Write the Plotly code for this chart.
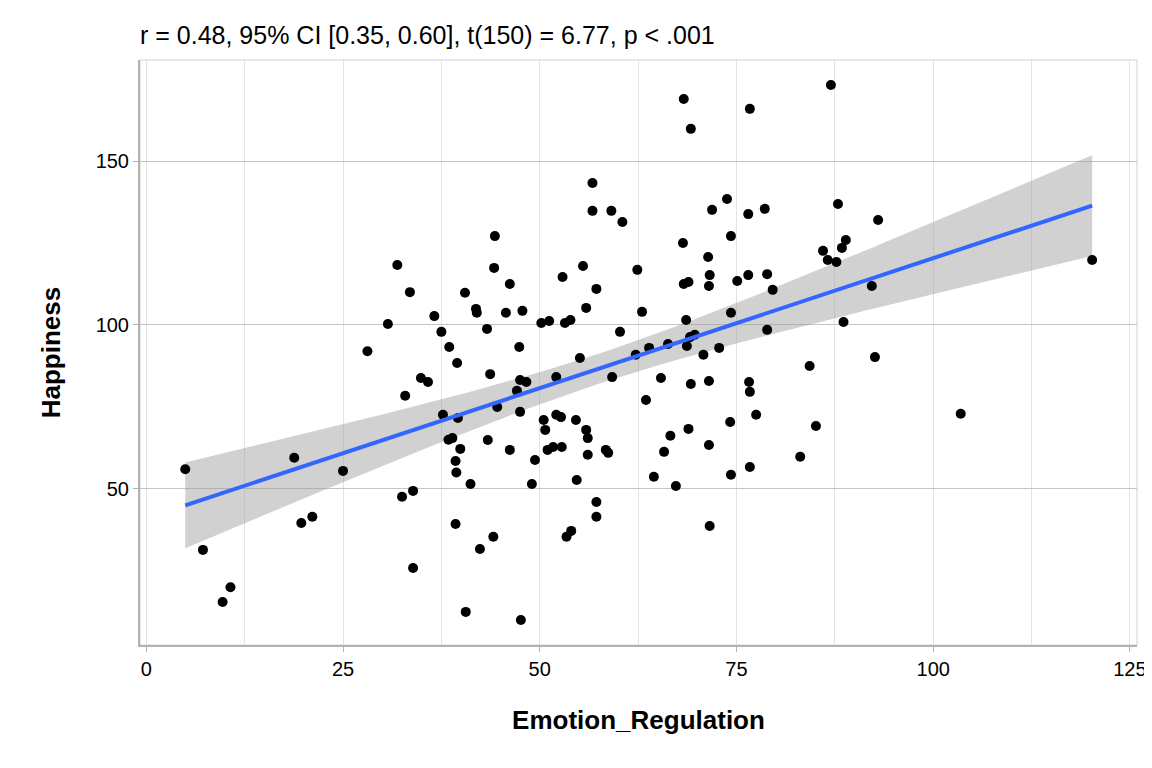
import numpy as np
import plotly.graph_objects as go

emotion_regulation = [
    4.95, 7.2, 9.7, 10.7, 18.8, 19.7, 21.1, 25.0, 28.1, 30.7, 31.9, 32.5, 32.9, 33.5, 33.9, 33.9,
    34.9, 35.8, 36.6, 37.5, 37.7, 38.4, 38.5, 38.9, 39.3, 39.3, 39.4, 39.5, 39.6, 39.9, 40.5, 40.6,
    41.2, 41.9, 42.0, 42.4, 43.3, 43.4, 43.7, 44.1, 44.2, 44.3, 44.6, 45.7, 46.2, 46.2, 47.1, 47.4,
    47.5, 47.5, 47.6, 47.8, 48.3, 49.0, 49.4, 50.2, 50.5, 50.7, 51.2, 51.0, 51.7, 52.1, 52.1, 52.7,
    52.8, 52.9, 53.2, 53.4, 53.9, 54.0, 54.6, 54.7, 55.1, 55.5, 55.9, 55.9, 56.1, 56.1, 56.7, 56.7,
    57.2, 57.2, 57.2, 58.4, 58.7, 59.1, 59.2, 60.2, 60.5, 62.2, 62.4, 63.0, 63.5, 63.9, 64.5, 65.4,
    65.8, 66.3, 66.6, 67.3, 68.2, 68.3, 68.3, 68.6, 68.9, 68.7, 68.9, 69.2, 69.1, 69.2, 69.7, 70.8,
    71.4, 71.5, 71.5, 71.5, 71.6, 71.6, 71.9, 72.8, 73.8, 74.2, 74.3, 74.3, 74.3, 75.1, 76.5, 76.5,
    76.7, 76.6, 76.7, 76.7, 77.5, 78.6, 78.9, 78.9, 79.6, 83.1, 84.3, 85.1, 86.0, 86.6, 87.0, 87.7,
    87.9, 88.4, 88.6, 88.9, 92.2, 92.6, 93.0, 103.5, 120.2,
]
happiness = [
    56.0, 31.4, 15.5, 20.0, 59.5, 39.6, 41.5, 55.5, 92.0, 100.3, 118.3, 47.6, 78.4, 110.0, 49.4, 25.9,
    83.8, 82.6, 102.7, 97.9, 72.6, 65.0, 93.3, 65.5, 39.3, 58.5, 55.0, 88.4, 71.6, 62.2, 109.8, 12.5,
    51.5, 104.9, 103.7, 31.7, 98.8, 64.9, 85.0, 35.4, 117.4, 127.1, 75.0, 103.7, 112.5, 61.9, 79.9, 93.3,
    83.2, 73.5, 10.0, 104.3, 82.6, 51.5, 58.8, 100.6, 71.0, 68.0, 101.2, 61.9, 62.8, 84.1, 72.6, 71.9,
    62.8, 114.6, 100.6, 35.4, 101.5, 37.2, 71.0, 52.7, 89.9, 118.0, 68.0, 105.2, 65.5, 60.4, 143.3, 134.8,
    111.0, 46.0, 41.5, 61.9, 61.0, 134.8, 84.1, 97.9, 131.4, 90.9, 116.8, 104.0, 77.1, 93.0, 53.7, 83.8,
    61.3, 94.2, 66.2, 50.9, 125.0, 168.9, 112.5, 101.5, 113.1, 93.6, 68.3, 159.8, 96.3, 82.0, 97.0, 90.9,
    120.7, 111.9, 82.9, 63.4, 115.2, 38.7, 135.1, 93.0, 138.4, 70.4, 127.1, 103.7, 54.3, 113.4, 133.8, 115.2,
    165.9, 82.6, 79.6, 56.7, 72.6, 135.4, 115.5, 98.5, 110.7, 59.8, 87.5, 69.2, 122.6, 119.8, 173.2, 119.2,
    136.9, 123.5, 100.9, 125.9, 111.9, 90.2, 132.0, 72.9, 119.8,
]
title_text = "r = 0.48, 95% CI [0.35, 0.60], t(150) = 6.77, p < .001"

# linear fit with 95% confidence band
x = np.array(emotion_regulation)
y = np.array(happiness)
n = len(x)
slope, intercept = np.polyfit(x, y, 1)
resid = y - (intercept + slope * x)
s = np.sqrt(np.sum(resid ** 2) / (n - 2))
xs = np.linspace(x.min(), x.max(), 80)
fit = intercept + slope * xs
se = s * np.sqrt(1 / n + (xs - x.mean()) ** 2 / np.sum((x - x.mean()) ** 2))
tq = 1.976
lo, hi = fit - tq * se, fit + tq * se

fig = go.Figure()
fig.add_trace(go.Scatter(
    x=np.concatenate([xs, xs[::-1]]), y=np.concatenate([hi, lo[::-1]]),
    fill="toself", fillcolor="rgba(153,153,153,0.45)", line=dict(width=0),
    mode="lines", hoverinfo="skip", showlegend=False))
fig.add_trace(go.Scatter(x=x, y=y, mode="markers",
                         marker=dict(color="black", size=10), showlegend=False))
fig.add_trace(go.Scatter(x=xs, y=fit, mode="lines",
                         line=dict(color="#3366FF", width=4), showlegend=False))

axis_common = dict(
    showline=True, linecolor="#b3b3b3", linewidth=2, mirror=False,
    zeroline=False, ticks="outside", tickcolor="#b3b3b3", ticklen=5,
    tickfont=dict(size=20, color="black"),
)
fig.update_xaxes(axis_common, range=[-0.8, 125.9], dtick=25, tick0=0,
                 gridcolor="#e3e3e3", gridwidth=1,
                 minor=dict(showgrid=True, dtick=12.5, tick0=0, gridcolor="#e3e3e3", gridwidth=1),
                 title=dict(text="<b>Emotion_Regulation</b>", font=dict(size=26, color="black"), standoff=32))
fig.update_yaxes(axis_common, range=[2.4, 180.8], dtick=50, tick0=0,
                 gridcolor="#c4c4c4", gridwidth=1,
                 title=dict(text="<b>Happiness</b>", font=dict(size=26, color="black"), standoff=28))

fig.update_layout(
    width=1152, height=768,
    margin=dict(l=132, r=23, t=52, b=131),
    plot_bgcolor="white", paper_bgcolor="white",
    font=dict(family="Liberation Sans, Arial, sans-serif"),
    title=dict(text=title_text, x=132 / 1152, xanchor="left", y=0.965, yanchor="middle",
               font=dict(size=25, color="black")),
    shapes=[dict(type="rect", xref="paper", yref="paper", x0=0, x1=1, y0=0, y1=1,
                 line=dict(color="#d0d0d0", width=1), layer="below")],
)

fig.write_html("out.html")
